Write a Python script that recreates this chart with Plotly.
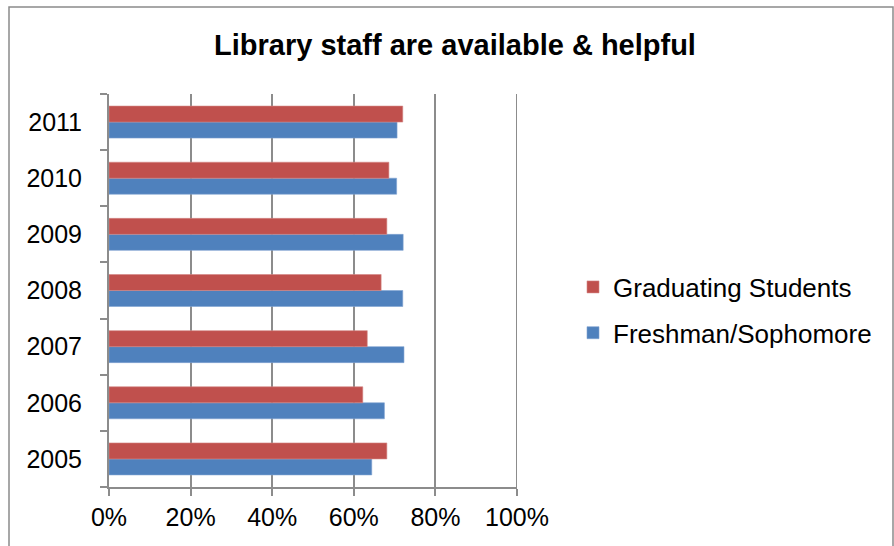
import plotly.graph_objects as go

# Survey: share agreeing "Library staff are available & helpful"
years = ["2005", "2006", "2007", "2008", "2009", "2010", "2011"]
freshman_sophomore = [0.644, 0.675, 0.723, 0.720, 0.721, 0.705, 0.706]
graduating_students = [0.681, 0.622, 0.633, 0.667, 0.681, 0.686, 0.720]
x_ticks = [0, 0.2, 0.4, 0.6, 0.8, 1.0]
x_tick_labels = ["0%", "20%", "40%", "60%", "80%", "100%"]

FONT = "Arial, Liberation Sans, sans-serif"
GRID = "#8c8c8c"

fig = go.Figure()
fig.add_trace(go.Bar(
    y=years, x=freshman_sophomore, orientation="h",
    name="Freshman/Sophomore", legendgroup="fs", legendrank=2,
    marker=dict(color="#4F81BD", line=dict(color="#7fa3d1", width=0.6)),
))
fig.add_trace(go.Bar(
    y=years, x=graduating_students, orientation="h",
    name="Graduating Students", legendgroup="gs", legendrank=1,
    marker=dict(color="#C0504D", line=dict(color="#d48784", width=0.6)),
))

W, H = 894, 546
L, R, T, B = 109, 377, 94, 59
pw, ph = W - L - R, H - T - B


def px_x(v):
    return (v - L) / pw


def px_y(v):
    return (H - B - v) / ph


fig.update_layout(
    width=W, height=H,
    margin=dict(l=L, r=R, t=T, b=B, pad=0),
    paper_bgcolor="white", plot_bgcolor="white",
    barmode="group", bargap=0.43, bargroupgap=0,
    font=dict(family=FONT, color="black", size=25),
    title=dict(
        text="<b>Library staff are available & helpful</b>",
        font=dict(family=FONT, size=29, color="black"),
        xref="container", x=455 / W, xanchor="center",
        yref="container", y=1 - 45 / H, yanchor="middle",
    ),
    xaxis=dict(
        range=[0, 1], tickvals=x_ticks, ticktext=x_tick_labels,
        showgrid=True, gridcolor=GRID, gridwidth=2,
        showline=True, linecolor=GRID, linewidth=2,
        ticks="outside", ticklen=7, tickwidth=2, tickcolor=GRID,
        tickfont=dict(family=FONT, size=25, color="black"),
        zeroline=False, fixedrange=True,
    ),
    yaxis=dict(
        type="category", categoryorder="array", categoryarray=years,
        showgrid=False, showline=True, linecolor=GRID, linewidth=2,
        ticks="outside", ticklen=7, tickwidth=2, tickcolor=GRID,
        tickson="boundaries", ticklabelstandoff=20,
        tickfont=dict(family=FONT, size=25, color="black"),
        zeroline=False, fixedrange=True,
    ),
    legend=dict(
        traceorder="grouped",
        x=px_x(573), xanchor="left",
        y=px_y(310), yanchor="middle",
        font=dict(family=FONT, size=26, color="black"),
        bgcolor="rgba(0,0,0,0)", borderwidth=0,
        tracegroupgap=9,
    ),
    shapes=[
        # gridline at the 100% edge of the value axis
        dict(type="line", xref="x", yref="paper", layer="below",
             x0=1, x1=1, y0=0, y1=1, line=dict(color=GRID, width=2)),
        # chart-area frame
        dict(type="rect", xref="paper", yref="paper", layer="below",
             x0=px_x(9), x1=px_x(893), y0=px_y(560), y1=px_y(7),
             line=dict(color="#8a8a8a", width=1.5),
             fillcolor="rgba(0,0,0,0)"),
    ],
)

fig.write_html("out.html")
